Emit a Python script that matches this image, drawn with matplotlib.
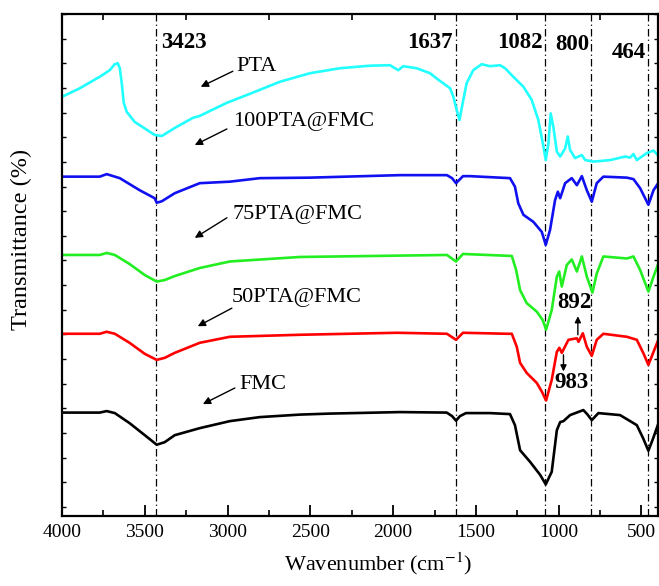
import matplotlib
matplotlib.use("Agg")
import matplotlib.pyplot as plt
from matplotlib.ticker import MultipleLocator, FixedLocator, NullFormatter
import numpy as np

plt.rcParams['font.family'] = ['Liberation Serif', 'DejaVu Serif']
plt.rcParams['mathtext.fontset'] = 'stix'

# ---------------- data ----------------
fmc_wn = [4000, 3772, 3730, 3681, 3592, 3500, 3428, 3380, 3319, 3168, 2986, 2805, 2563, 2382, 1959,
          1676, 1644, 1620, 1596, 1560, 1415, 1294, 1264, 1233, 1173, 1112, 1078, 1042, 1011, 991,
          971, 931, 851, 828, 800, 760, 629, 528, 490, 458, 429, 397]
fmc_t = [20.6, 20.6, 20.9, 20.5, 18.5, 16.1, 14.2, 14.7, 16.1, 17.5, 18.9, 19.7, 20.2, 20.4, 20.7,
         20.6, 19.9, 19.0, 19.9, 20.5, 20.5, 20.3, 18.1, 13.1, 10.8, 8.2, 6.3, 8.8, 17.1, 18.7,
         18.9, 20.1, 21.1, 20.3, 19.1, 20.5, 20.1, 18.1, 15.5, 13.0, 15.5, 18.5]

p50_wn = [4000, 3772, 3730, 3681, 3592, 3500, 3428, 3380, 3319, 3168, 2986, 2563, 1977, 1675, 1620,
          1578, 1312, 1283, 1253, 1233, 1193, 1132, 1102, 1076, 1042, 1011, 996, 981, 941, 890,
          880, 854, 830, 800, 770, 730, 588, 528, 488, 458, 427, 393]
p50_t = [36.3, 36.3, 36.7, 36.3, 34.5, 32.3, 31.1, 31.5, 32.5, 34.5, 35.7, 36.1, 36.5, 36.3, 35.1,
         36.5, 36.3, 36.3, 33.7, 30.5, 28.5, 26.5, 24.8, 23.0, 27.1, 32.7, 33.5, 32.5, 35.1, 35.4,
         34.7, 36.4, 33.7, 31.9, 35.1, 36.3, 35.7, 35.1, 32.4, 30.1, 32.7, 35.5]

p75_wn = [4000, 3772, 3730, 3681, 3592, 3500, 3428, 3380, 3319, 3168, 2986, 2563, 1675, 1620, 1578,
          1283, 1257, 1233, 1193, 1132, 1096, 1076, 1042, 1011, 997, 981, 951, 921, 890, 860,
          830, 796, 770, 730, 588, 548, 508, 458, 427, 393]
p75_t = [52.0, 52.0, 52.4, 52.0, 50.2, 48.0, 46.7, 47.0, 47.8, 49.4, 50.7, 51.6, 52.0, 50.7, 52.2,
         51.8, 49.0, 45.0, 42.4, 40.7, 39.0, 37.1, 41.0, 47.7, 48.7, 45.7, 50.0, 51.1, 48.7, 51.7,
         47.7, 44.5, 48.3, 51.7, 51.3, 51.7, 49.0, 44.7, 47.7, 50.7]

p100_wn = [4000, 3772, 3730, 3651, 3531, 3440, 3428, 3397, 3319, 3168, 2986, 2805, 2503, 1959, 1675,
           1644, 1620, 1578, 1536, 1294, 1264, 1244, 1213, 1153, 1102, 1078, 1052, 1022, 1005, 991,
           961, 921, 890, 860, 830, 800, 770, 730, 588, 548, 508, 458, 427, 393]
p100_t = [67.6, 67.6, 68.1, 67.3, 64.9, 63.3, 62.4, 62.7, 64.3, 66.3, 66.6, 67.3, 67.4, 67.9, 67.9,
          67.3, 66.3, 67.7, 67.7, 67.3, 65.6, 62.3, 60.0, 58.6, 56.6, 54.0, 57.0, 62.9, 64.6, 63.3,
          66.3, 67.3, 65.9, 67.7, 64.9, 62.6, 66.3, 67.6, 67.4, 67.1, 65.3, 62.0, 64.9, 66.6]

pta_wn = [4000, 3893, 3772, 3712, 3681, 3663, 3651, 3639, 3627, 3609, 3561, 3500, 3440, 3397, 3319,
          3210, 3168, 3005, 2865, 2684, 2503, 2321, 2140, 2019, 1969, 1939, 1858, 1777, 1727, 1697,
          1656, 1636, 1616, 1599, 1576, 1556, 1516, 1465, 1415, 1354, 1324, 1274, 1213, 1163, 1123,
          1092, 1078, 1062, 1048, 1032, 1011, 991, 961, 945, 931, 901, 860, 840, 790, 689,
          598, 568, 548, 528, 467, 427, 393]
pta_t = [83.5, 85.2, 87.5, 88.8, 90.0, 90.2, 89.2, 86.2, 82.3, 80.5, 78.5, 77.2, 75.9, 75.7, 77.3,
         79.3, 79.7, 82.3, 84.1, 86.5, 88.2, 89.2, 89.7, 89.8, 88.8, 89.6, 89.2, 88.2, 86.9, 86.2,
         85.2, 83.5, 80.9, 78.9, 82.9, 86.2, 88.8, 90.0, 89.6, 89.8, 89.2, 87.5, 85.5, 82.9, 78.9,
         73.6, 70.9, 74.2, 80.2, 77.5, 72.6, 71.6, 73.2, 75.6, 72.9, 71.3, 71.9, 70.9, 70.6, 70.9,
         71.6, 71.4, 72.1, 70.9, 72.3, 72.8, 71.6]

series_names = ["FMC", "50PTA@FMC", "75PTA@FMC", "100PTA@FMC", "PTA"]
series_colors = ["#000000", "#FF0000", "#22EE22", "#1010F0", "#22FFFF"]
series_wn = [fmc_wn, p50_wn, p75_wn, p100_wn, pta_wn]
series_t = [fmc_t, p50_t, p75_t, p100_t, pta_t]

# label text positions (left x, centre y), arrow tail / head
label_pos = [(2926, 26.1), (2974, 43.6), (2968, 60.0), (2968, 78.5), (2944, 89.6)]
arrow_tail = [(2956, 25.5), (2974, 41.4), (3004, 59.4), (3004, 77.1), (2968, 88.6)]
arrow_head = [(3149, 22.3), (3180, 37.8), (3198, 55.4), (3198, 73.9), (3162, 85.5)]

peak_lines = [3430, 1618, 1080, 802, 462]
peak_labels = ["3423", "1637", "1082", "800", "464"]
peak_label_pos = [(3261, 94.4), (1777, 94.4), (1236, 94.4), (919, 94.0), (574, 92.4)]

# ---------------- figure ----------------
fig = plt.figure(figsize=(6.59, 5.86), dpi=100)
ax = fig.add_axes([62 / 659, 70 / 586, 596 / 659, 502 / 586])

for wn, t, c in zip(series_wn, series_t, series_colors):
    ax.plot(wn, t, color=c, lw=1.9, solid_joinstyle='round')

for xv in peak_lines:
    ax.axvline(xv, color='black', lw=0.9, ls=(0, (6, 2.5, 1, 2.5)), zorder=1)

for name, (lx, ly), tail, head in zip(series_names, label_pos, arrow_tail, arrow_head):
    ax.text(lx, ly, name, fontsize=16, ha='left', va='center')
    ax.annotate('', xy=head, xytext=tail,
                arrowprops=dict(arrowstyle='-|>', color='black', lw=1.0,
                                mutation_scale=11, shrinkA=0, shrinkB=0))

for lab, (px, py) in zip(peak_labels, peak_label_pos):
    ax.text(px, py, lab, fontsize=16.5, fontweight='bold', ha='center', va='center')

# 892 and 983 annotations
ax.text(904, 42.5, "892", fontsize=16.5, fontweight='bold', ha='center', va='center')
ax.annotate('', xy=(884, 39.8), xytext=(884, 36.1),
            arrowprops=dict(arrowstyle='-|>', color='black', lw=1.0,
                            mutation_scale=9, shrinkA=0, shrinkB=0))
ax.text(925, 26.5, "983", fontsize=16.5, fontweight='bold', ha='center', va='center')
ax.annotate('', xy=(971, 28.8), xytext=(971, 32.1),
            arrowprops=dict(arrowstyle='-|>', color='black', lw=1.0,
                            mutation_scale=9, shrinkA=0, shrinkB=0))

ax.set_xlim(4000, 400)
ax.set_ylim(0, 100)

ax.xaxis.set_major_locator(MultipleLocator(500))
ax.xaxis.set_minor_locator(MultipleLocator(250))
ax.yaxis.set_major_locator(FixedLocator([]))
ax.yaxis.set_minor_locator(FixedLocator(np.arange(100, 0, -4.91)))
ax.yaxis.set_minor_formatter(NullFormatter())

ax.tick_params(axis='x', which='major', direction='in', length=8, width=1.3,
               labelsize=14, pad=6, top=False)
ax.tick_params(axis='x', which='minor', direction='in', length=4.5, width=1.2, top=True)
ax.tick_params(axis='y', which='minor', direction='in', length=2.8, width=1.0,
               left=True, right=True)
for sp in ax.spines.values():
    sp.set_linewidth(1.6)

ax.set_xlabel("Wavenumber (cm$^{-1}$)", fontsize=16)
ax.xaxis.set_label_coords(0.53, -0.068)
ax.set_ylabel("Transmittance (%)", fontsize=17.5)
ax.yaxis.set_label_coords(-0.05, 0.55)

fig.savefig("out.png", dpi=100)
